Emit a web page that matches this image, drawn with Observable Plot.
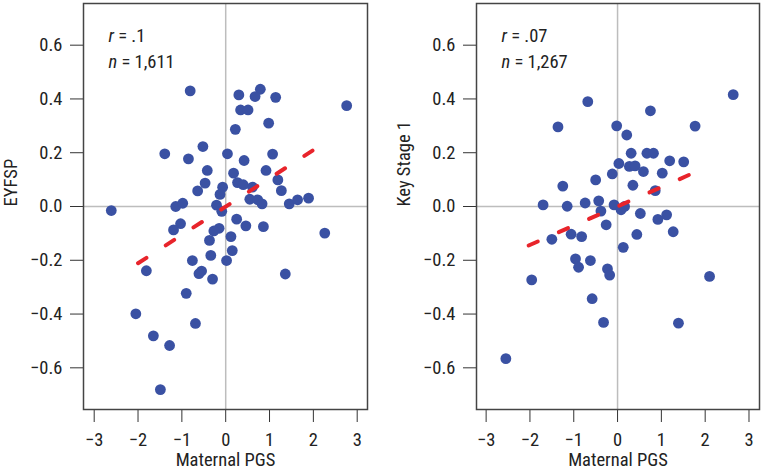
<!DOCTYPE html>
<html><head><meta charset="utf-8">
<script src="https://cdn.jsdelivr.net/npm/d3@7"></script>
<script src="https://cdn.jsdelivr.net/npm/@observablehq/plot@0.6"></script>
<style>
body{margin:0;background:#fff;}
#wrap{display:flex;width:763px;height:475px;}
</style></head><body><div id="wrap"></div>
<script>
// Tick values
const xTicks = [-3, -2, -1, 0, 1, 2, 3];
const yTicks = [-0.6, -0.4, -0.2, 0, 0.2, 0.4, 0.6];
const xLabel = "Maternal PGS";

// Left panel: EYFSP
const eyfspLabel = "EYFSP";
const eyfspStats = ["r = .1", "n = 1,611"];
const eyfspPGS = [-0.81,0.30,0.79,0.67,1.14,2.76,0.34,0.51,0.98,0.22,-0.52,-1.39,0.04,1.07,-0.85,0.42,-0.42,0.92,0.18,-0.47,0.27,0.40,0.61,1.19,1.27,-0.07,-0.13,-0.64,0.55,0.73,0.83,1.45,1.64,1.89,-1.14,-0.98,-0.21,-0.09,-2.61,0.25,0.46,0.86,-1.03,-1.19,-0.15,-0.27,0.12,-0.37,2.26,0.15,-0.34,0.02,-0.76,-0.55,-0.61,-0.30,-1.81,1.36,-0.90,-2.05,-0.69,-1.65,-1.28,-1.49];
const eyfspScore = [0.43,0.415,0.436,0.409,0.406,0.375,0.359,0.359,0.31,0.287,0.223,0.196,0.196,0.195,0.177,0.171,0.134,0.134,0.124,0.087,0.089,0.081,0.072,0.099,0.059,0.072,0.045,0.058,0.027,0.025,0.010,0.010,0.025,0.031,0.0,0.012,0.005,-0.018,-0.015,-0.047,-0.072,-0.075,-0.064,-0.087,-0.081,-0.091,-0.112,-0.126,-0.099,-0.164,-0.182,-0.201,-0.201,-0.24,-0.25,-0.27,-0.239,-0.251,-0.323,-0.399,-0.435,-0.481,-0.517,-0.681];
const eyfspFitPGS = [-2.0, 1.98];
const eyfspFitScore = [-0.211, 0.208];

// Right panel: Key Stage 1
const ks1Label = "Key Stage 1";
const ks1Stats = ["r = .07", "n = 1,267"];
const ks1PGS = [2.64,-0.68,0.75,-1.36,-0.02,1.77,0.21,0.31,0.67,0.82,0.03,0.27,0.40,1.19,1.51,0.59,1.02,-0.12,-0.50,-1.25,0.35,0.86,-1.70,-1.15,-0.74,-0.43,-0.08,0.08,0.16,-0.38,0.52,1.12,0.92,-0.26,1.27,0.44,-1.50,-1.06,-0.82,0.13,-0.96,-0.89,-0.62,-0.23,-0.18,-1.96,2.10,-0.58,-0.32,1.39,-2.55];
const ks1Score = [0.416,0.39,0.356,0.296,0.30,0.299,0.266,0.198,0.198,0.198,0.160,0.149,0.151,0.170,0.166,0.130,0.124,0.121,0.099,0.076,0.079,0.059,0.006,0.001,0.013,0.021,0.006,-0.012,0.0,-0.017,-0.026,-0.031,-0.048,-0.068,-0.094,-0.104,-0.122,-0.103,-0.112,-0.152,-0.195,-0.226,-0.201,-0.232,-0.255,-0.273,-0.26,-0.343,-0.431,-0.434,-0.566];
const ks1FitPGS = [-2.03, 1.78];
const ks1FitScore = [-0.145, 0.128];

const FONT = 'Roboto, "DejaVu Sans Condensed", sans-serif';

function panel({xs, ys, fx, fy, yLabel, stats, width, marginLeft, marginRight, xDomain}) {
  const pts = xs.map((x, i) => ({x, y: ys[i]}));
  const fit = fx.map((x, i) => ({x, y: fy[i]}));
  const svg = Plot.plot({
    width, height: 475, marginLeft, marginRight, marginTop: 3, marginBottom: 66,
    style: {fontFamily: FONT, fontSize: "18.5px", fontStretch: "87.5%", color: "#333", background: "#fff", overflow: "visible"},
    x: {domain: xDomain, ticks: xTicks, tickFormat: d3.format("d"), tickSize: 13, tickPadding: 10, label: null},
    y: {domain: [-0.755, 0.755], ticks: yTicks, tickFormat: d3.format(".1f"), tickSize: 13, tickPadding: 8, label: null},
    marks: [
      Plot.ruleX([0], {stroke: "#bdbdbd", strokeWidth: 1.5}),
      Plot.ruleY([0], {stroke: "#bdbdbd", strokeWidth: 1.5}),
      Plot.dot(pts, {x: "x", y: "y", r: 5.4, fill: "#3a51a3"}),
      Plot.line(fit, {x: "x", y: "y", stroke: "#e8242b", strokeWidth: 4, strokeDasharray: "10,23", strokeLinecap: "round"}),
      Plot.frame({stroke: "#444", strokeWidth: 1.5}),
      Plot.text([yLabel], {frameAnchor: "left", dx: -72, rotate: -90, text: d => d, fill: "#222"}),
      Plot.text([xLabel], {frameAnchor: "bottom", dy: 56.5, text: d => d, fill: "#222"}),
      Plot.text([stats[0]], {frameAnchor: "top-left", dx: 25, dy: 25, textAnchor: "start", text: d => d, fill: "#222"}),
      Plot.text([stats[1]], {frameAnchor: "top-left", dx: 25, dy: 51, textAnchor: "start", text: d => d, fill: "#222"})
    ]
  });
  d3.select(svg).selectAll("text").each(function() {
    const t = this.textContent;
    if (t === stats[0] || t === stats[1]) {
      this.textContent = "";
      d3.select(this).append("tspan").attr("font-style", "italic").text(t[0]);
      d3.select(this).append("tspan").text(t.slice(1));
    }
  });
  d3.select(svg).selectAll("g[aria-label*='tick label'] text").attr("fill", "#222");
  return svg;
}

const wrap = document.getElementById("wrap");
wrap.appendChild(panel({xs: eyfspPGS, ys: eyfspScore, fx: eyfspFitPGS, fy: eyfspFitScore, yLabel: eyfspLabel, stats: eyfspStats,
  width: 380, marginLeft: 83, marginRight: 13, xDomain: [-3.244, 3.235]}));
wrap.appendChild(panel({xs: ks1PGS, ys: ks1Score, fx: ks1FitPGS, fy: ks1FitScore, yLabel: ks1Label, stats: ks1Stats,
  width: 383, marginLeft: 96, marginRight: 4, xDomain: [-3.22, 3.24]}));
</script></body></html>
